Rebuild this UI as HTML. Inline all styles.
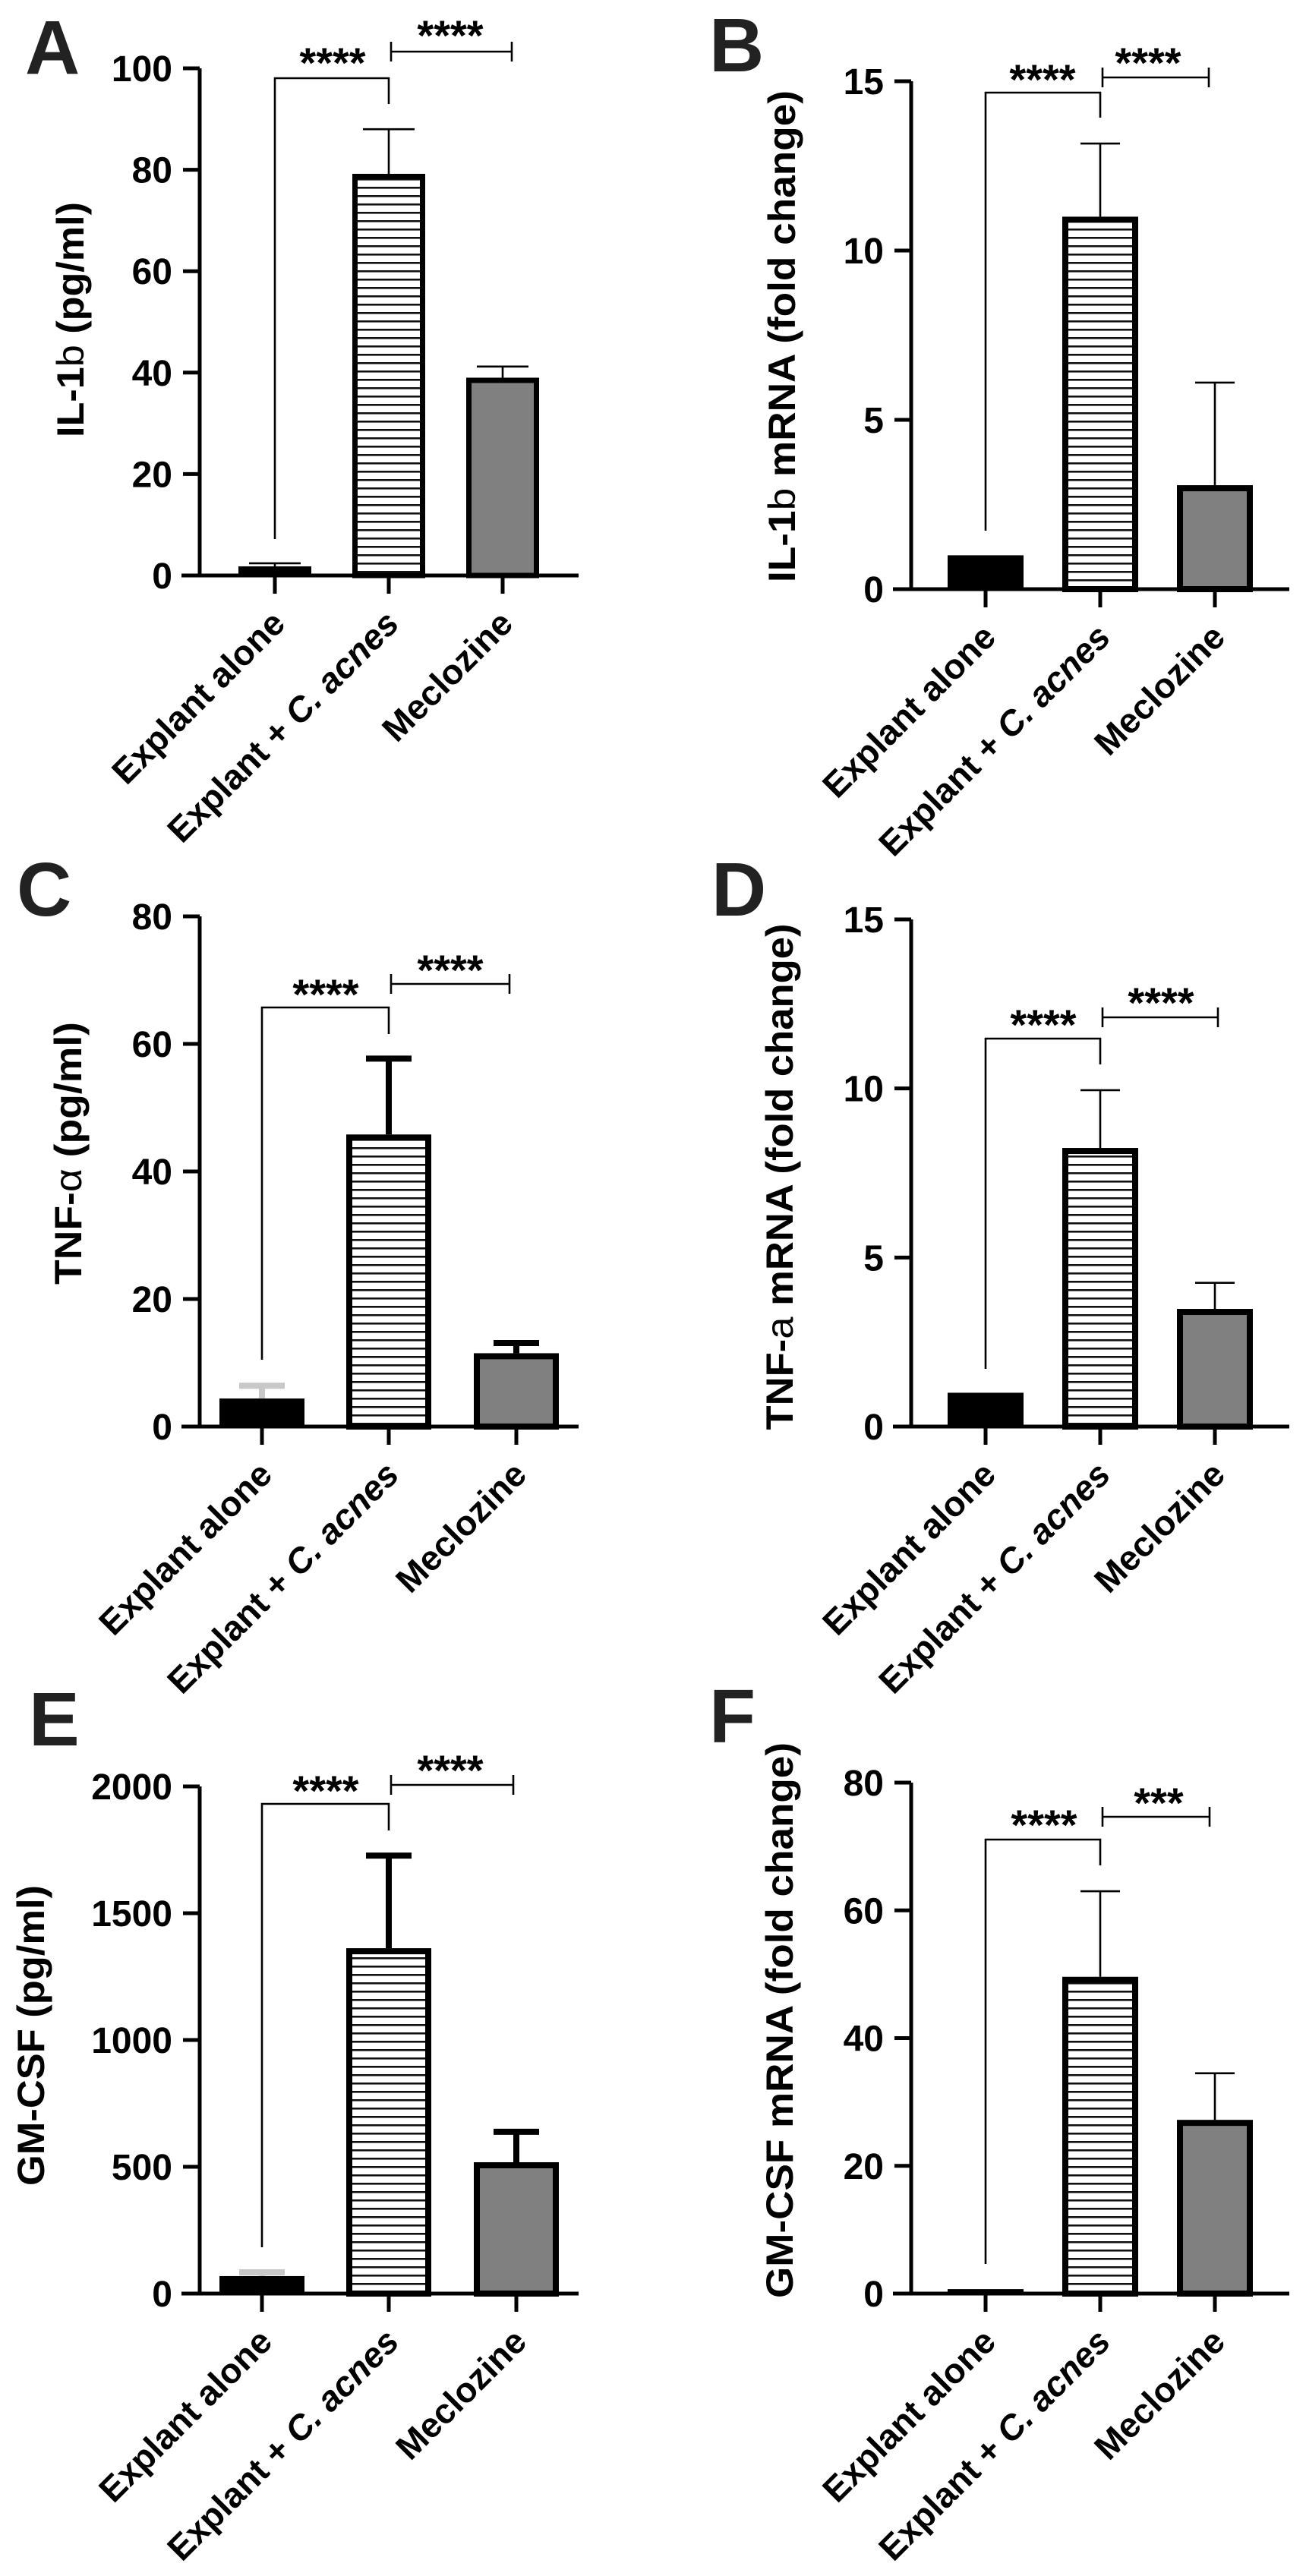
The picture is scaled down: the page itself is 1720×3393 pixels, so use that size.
<!DOCTYPE html>
<html><head><meta charset="utf-8">
<style>
html,body{margin:0;padding:0;background:#fff;}
svg{display:block;font-family:"Liberation Sans",Arial,sans-serif;}
</style></head>
<body>
<svg id="fig" width="1720" height="3393" viewBox="0 0 1720 3393" xmlns="http://www.w3.org/2000/svg">
<defs>
<pattern id="hatch" patternUnits="userSpaceOnUse" width="40" height="11">
<rect width="40" height="11" fill="#fff"/>
<rect y="4" width="40" height="2.6" fill="#111"/>
</pattern>
</defs>
</svg>
<script>
const categories = ["Explant alone", "Explant + C. acnes", "Meclozine"];
// Panel A: IL-1b (pg/ml)
const valuesA = [1.8, 79.2, 39];
const errorsA = [0.6, 8.8, 2.2];
const ticksA = [0, 20, 40, 60, 80, 100];
// Panel B: IL-1b mRNA
const valuesB = [1, 11, 3.07];
const errorsB = [0, 2.16, 3.03];
const ticksB = [0, 5, 10, 15];
// Panel C: TNF-alpha (pg/ml)
const valuesC = [4.4, 45.8, 11.5];
const errorsC = [2.0, 11.9, 1.6];
const ticksC = [0, 20, 40, 60, 80];
// Panel D: TNF-a mRNA
const valuesD = [1, 8.24, 3.48];
const errorsD = [0, 1.71, 0.77];
const ticksD = [0, 5, 10, 15];
// Panel E: GM-CSF (pg/ml)
const valuesE = [69, 1362, 518];
const errorsE = [15, 365, 120];
const ticksE = [0, 500, 1000, 1500, 2000];
// Panel F: GM-CSF mRNA
const valuesF = [0.7, 49.6, 27.2];
const errorsF = [0, 13.4, 7.3];
const ticksF = [0, 20, 40, 60, 80];
const sigLabels = ["****", "****", "****", "****", "****", "****", "****", "****", "****", "****", "****", "***"];

const NS = "http://www.w3.org/2000/svg";
const svg = document.getElementById("fig");
function mk(tag, attrs, parent) {
  const e = document.createElementNS(NS, tag);
  for (const k in attrs) e.setAttribute(k, attrs[k]);
  (parent || svg).appendChild(e);
  return e;
}

const panels = [
  {id:"a", letter:"A", lx:33, ly:97, ax:263, y0:758, yTop:90, max:100, xr:762, ticksX:[362,512,662], bw:96, border:7, errW:2.6, capHalf:34, thick:false,
   vals:valuesA, errs:errorsA, ticks:ticksA, title:["IL-1", "b", " (pg/ml)"], tx:110, tcy:421, tlen:310,
   b1y:103, b1l:710, b1r:137, b2y:68, b2x2:674, s1x:438, s1y:72, s2x:593, s2y:36, sig:[0,1]},
  {id:"b", letter:"B", lx:934, ly:94, ax:1200, y0:776, yTop:107, max:15, xr:1698, ticksX:[1298,1449,1600], bw:100, border:8, errW:2.6, capHalf:26, thick:false,
   vals:valuesB, errs:errorsB, ticks:ticksB, title:["IL-1", "b", " mRNA (fold change)"], tx:1047, tcy:443, tlen:648,
   b1y:122, b1l:699, b1r:155, b2y:102, b2x2:1592, s1x:1373, s1y:94, s2x:1512, s2y:72, sig:[2,3]},
  {id:"c", letter:"C", lx:22, ly:1206, ax:263, y0:1879, yTop:1207, max:80, xr:762, ticksX:[345,512,680], bw:112, border:8, errW:8, capHalf:30, thick:true,
   vals:valuesC, errs:errorsC, ticks:ticksC, title:["TNF-", "\u03b1", " (pg/ml)"], tx:107, tcy:1519, tlen:346,
   b1y:1327, b1l:1791, b1r:1362, b2y:1296, b2x2:671, s1x:429, s1y:1299, s2x:593, s2y:1267, sig:[4,5]},
  {id:"d", letter:"D", lx:937, ly:1206, ax:1200, y0:1879, yTop:1211, max:15, xr:1698, ticksX:[1298,1449,1600], bw:100, border:8, errW:2.6, capHalf:26, thick:false,
   vals:valuesD, errs:errorsD, ticks:ticksD, title:["TNF-", "a", " mRNA (fold change)"], tx:1044, tcy:1550, tlen:667,
   b1y:1368, b1l:1803, b1r:1402, b2y:1340, b2x2:1604, s1x:1374, s1y:1339, s2x:1529, s2y:1310, sig:[6,7]},
  {id:"e", letter:"E", lx:38, ly:2299, ax:263, y0:3021, yTop:2353, max:2000, xr:762, ticksX:[345,512,680], bw:112, border:8, errW:8, capHalf:30, thick:true,
   vals:valuesE, errs:errorsE, ticks:ticksE, title:["GM-CSF", "", " (pg/ml)"], tx:58, tcy:2681, tlen:396,
   b1y:2376, b1l:2960, b1r:2411, b2y:2351, b2x2:676, s1x:429, s1y:2348, s2x:593, s2y:2321, sig:[8,9]},
  {id:"f", letter:"F", lx:934, ly:2295, ax:1200, y0:3021, yTop:2348, max:80, xr:1698, ticksX:[1298,1449,1600], bw:100, border:8, errW:2.6, capHalf:26, thick:false,
   vals:valuesF, errs:errorsF, ticks:ticksF, title:["GM-CSF mRNA", "", " (fold change)"], tx:1044, tcy:2661, tlen:732,
   b1y:2423, b1l:2982, b1r:2457, b2y:2393, b2x2:1593, s1x:1375, s1y:2393, s2x:1526, s2y:2364, sig:[10,11]}
];

panels.forEach(p => {
  const g = mk("g", {});
  
  
  const ys = v => p.y0 - (v / p.max) * (p.y0 - p.yTop);

  const letter = mk("text", {x:p.lx, y:p.ly, "font-size":100, "font-weight":"bold", fill:"#222"}, g);
  letter.textContent = p.letter;
  
  

  // y title
  const t = mk("text", {x:0, y:0, "font-size":50, "font-weight":"bold", fill:"#000", "text-anchor":"middle",
    transform:`translate(${p.tx},${p.tcy}) rotate(-90)`, textLength:p.tlen, lengthAdjust:"spacingAndGlyphs"}, g);
  
  
  const t1 = mk("tspan", {}, t); t1.textContent = p.title[0];
  if (p.title[1]) { const t2 = mk("tspan", {"font-weight":"normal"}, t); t2.textContent = p.title[1]; }
  const t3 = mk("tspan", {}, t); t3.textContent = p.title[2];

  // bars
  p.vals.forEach((v, i) => {
    const cx = p.ticksX[i];
    const top = ys(v), h = p.y0 - top;
    const fill = i === 0 ? "#000" : (i === 1 ? "url(#hatch)" : "#808080");
    const b = p.border;
    let r;
    if (i === 0) {
      r = mk("rect", {x:cx - p.bw/2, y:top, width:p.bw, height:Math.max(h,1), fill:"#000"}, g);
    } else {
      r = mk("rect", {x:cx - p.bw/2 + b/2, y:top + b/2, width:p.bw - b, height:Math.max(h - b/2, 0), fill:fill, stroke:"#000", "stroke-width":b}, g);
    }
    
    
    const e = p.errs[i];
    if (e > 0) {
      const ey = ys(v + e);
      const col = (i === 0 && p.thick) ? "#c8c8c8" : (i === 0 ? "#000" : "#000");
      const eg = mk("g", {stroke:col, "stroke-width":p.errW, fill:"none"}, g);
      
      
      mk("line", {x1:cx, y1:top, x2:cx, y2:ey}, eg);
      mk("line", {x1:cx - p.capHalf, y1:ey, x2:cx + p.capHalf, y2:ey}, eg);
    }
  });

  // axes
  const ax = mk("g", {stroke:"#000", "stroke-width":5, fill:"none"}, g);
  
  
  mk("line", {x1:p.ax, y1:p.yTop, x2:p.ax, y2:p.y0 + 2.5}, ax);
  mk("line", {x1:p.ax - 24, y1:p.y0, x2:p.xr, y2:p.y0}, ax);
  p.ticks.forEach(tv => {
    const y = ys(tv);
    if (tv !== 0) mk("line", {x1:p.ax - 22, y1:y, x2:p.ax, y2:y}, ax);
    const tl = mk("text", {x:p.ax - 36, y:y + 17, "font-size":48, "font-weight":"bold", fill:"#000", "text-anchor":"end"}, g);
    tl.textContent = tv;
    
    
  });
  p.ticksX.forEach((tx, i) => {
    mk("line", {x1:tx, y1:p.y0, x2:tx, y2:p.y0 + 24}, ax);
    const cl = mk("text", {x:0, y:0, "font-size":46, "font-weight":"bold", fill:"#000", "text-anchor":"end",
      transform:`translate(${tx + 16},${p.y0 + 66}) rotate(-45)`}, g);
    
    
    if (i === 1) {
      const a = mk("tspan", {}, cl); a.textContent = "Explant + ";
      const b2 = mk("tspan", {"font-style":"italic"}, cl); b2.textContent = "C. acnes";
    } else cl.textContent = categories[i];
  });

  // significance brackets
  const bg = mk("g", {stroke:"#000", "stroke-width":2.6, fill:"none"}, g);
  
  
  const x0 = p.ticksX[0], x1 = p.ticksX[1];
  mk("polyline", {points:`${x0},${p.b1l} ${x0},${p.b1y} ${x1},${p.b1y} ${x1},${p.b1r}`}, bg);
  const bx1 = x1 + 3;
  mk("line", {x1:bx1, y1:p.b2y, x2:p.b2x2, y2:p.b2y}, bg);
  mk("line", {x1:bx1, y1:p.b2y - 13, x2:bx1, y2:p.b2y + 13}, bg);
  mk("line", {x1:p.b2x2, y1:p.b2y - 13, x2:p.b2x2, y2:p.b2y + 13}, bg);
  [[p.s1x, p.s1y, p.sig[0]], [p.s2x, p.s2y, p.sig[1]]].forEach((s, k) => {
    const st = mk("text", {x:s[0], y:s[1] + 30, "font-size":56, "font-weight":"bold", fill:"#000", "text-anchor":"middle"}, g);
    st.textContent = sigLabels[s[2]];
    
    
  });
});
</script>
</body></html>
